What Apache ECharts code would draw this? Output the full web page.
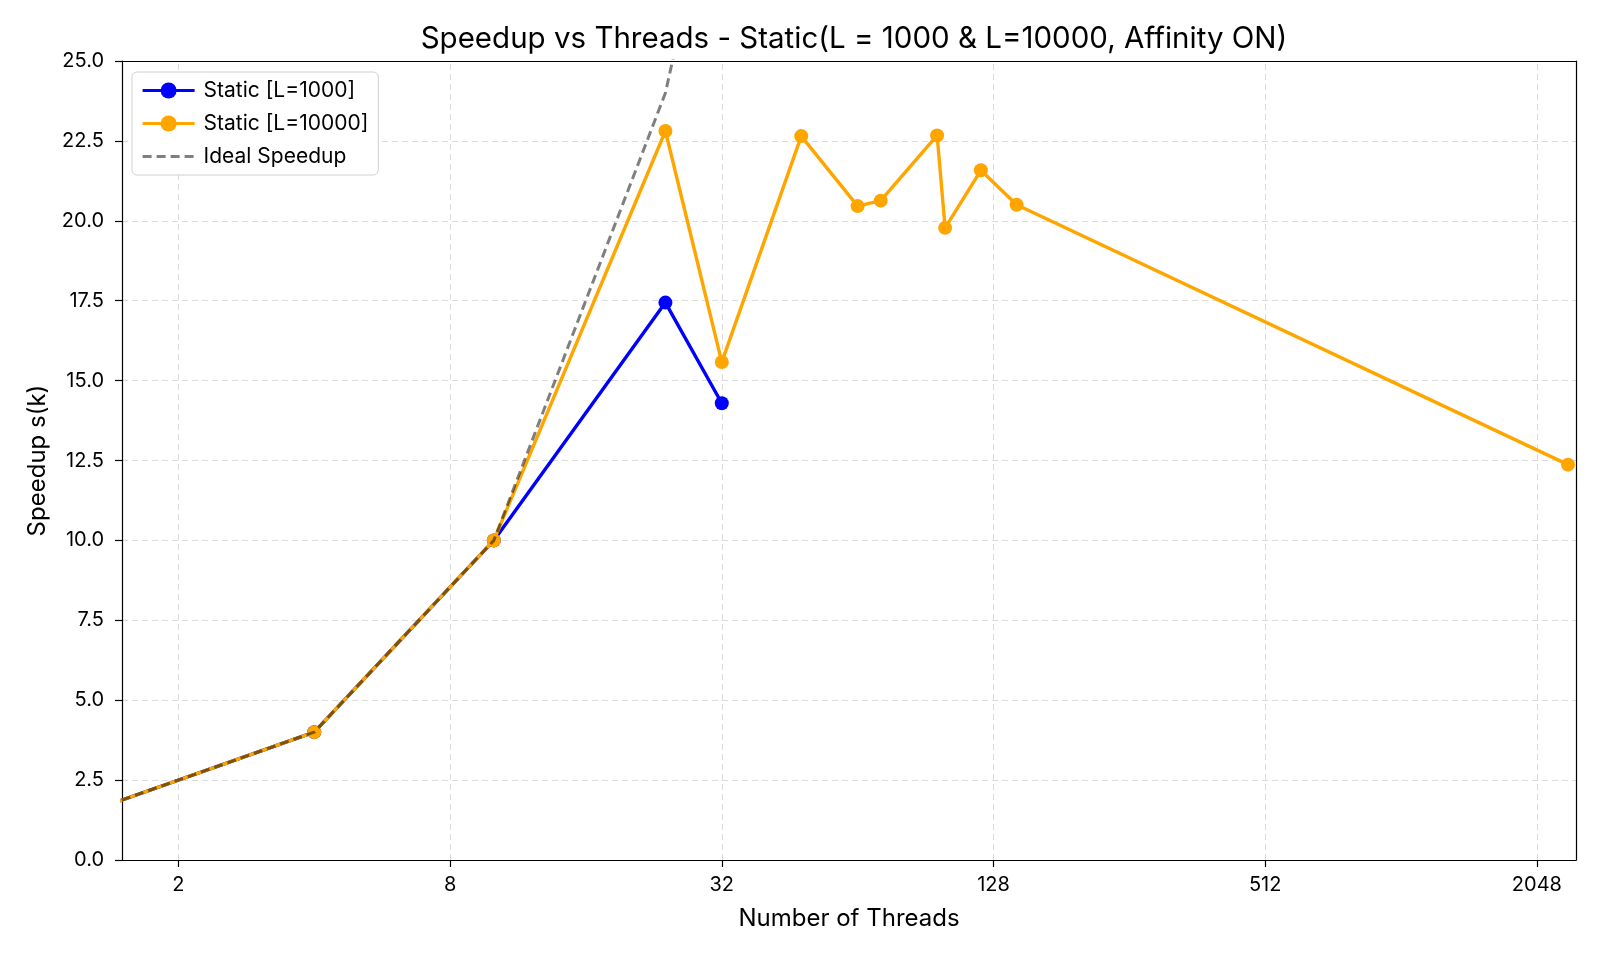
<!DOCTYPE html>
<html>
<head>
<meta charset="utf-8">
<script src="https://cdn.jsdelivr.net/npm/echarts@6/dist/echarts.min.js"></script>
<style>
  html, body { margin: 0; padding: 0; background: #fff; }
  #chart { width: 1600px; height: 960px; }
</style>
</head>
<body>
<div id="chart"></div>
<script>
// data
const threadsL1000 = [1, 4, 10, 24, 32];
const speedupL1000 = [1.0, 4.0, 10.0, 17.44, 14.29];
const threadsL10000 = [1, 4, 10, 24, 32, 48, 64, 72, 96, 100, 120, 144, 2400];
const speedupL10000 = [1.0, 4.0, 10.0, 22.81, 15.58, 22.65, 20.46, 20.63, 22.67, 19.78, 21.58, 20.5, 12.37];
const idealThreads = [1, 4, 10, 24, 32];
const xTicks = [2, 8, 32, 128, 512, 2048];

const font = 'Inter, "Noto Sans", sans-serif';
const gridLine = { color: '#dcdcdc', width: 1, type: [6, 4] };
const spine = { color: '#000', width: 1.2 };

const pairs = (xs, ys) => xs.map((x, i) => [x, ys[i]]);

const chart = echarts.init(document.getElementById('chart'));

const option = {
    animation: false,
    textStyle: { fontFamily: font, color: '#000' },
    title: {
        text: 'Speedup vs Threads - Static(L = 1000 & L=10000, Affinity ON)',
        left: 849,
        top: 19,
        textAlign: 'center',
        textStyle: { fontFamily: font, fontSize: 29.5, fontWeight: 'normal', color: '#000' }
    },
    legend: {
        orient: 'vertical',
        left: 132,
        top: 72,
        padding: [8, 10, 8, 9],
        itemGap: 12,
        itemWidth: 52,
        itemHeight: 20,
        backgroundColor: '#fff',
        borderColor: '#d0d0d0',
        borderWidth: 1,
        borderRadius: 5,
        lineStyle: { width: 3.2 },
        textStyle: { fontFamily: font, fontSize: 21, color: '#000', padding: [0, 0, 0, 4] },
        data: ['Static [L=1000]', 'Static [L=10000]', 'Ideal Speedup']
    },
    grid: {
        left: 122,
        right: 24,
        top: 61,
        bottom: 100
    },
    xAxis: [
        {
            type: 'log',
            logBase: 2,
            min: 1.5,
            max: 2500,
            name: 'Number of Threads',
            nameLocation: 'middle',
            nameGap: 47,
            nameTextStyle: { fontFamily: font, fontSize: 24, color: '#000' },
            axisLine: { show: true, onZero: false, lineStyle: spine },
            axisTick: { show: true, length: 7, customValues: xTicks, lineStyle: spine },
            axisLabel: {
                customValues: xTicks,
                margin: 15,
                fontFamily: font,
                fontSize: 20,
                color: '#000',
                formatter: v => String(Math.round(v))
            },
            splitLine: { show: false }
        },
        {
            type: 'log',
            logBase: 2,
            min: 1.5,
            max: 2500,
            position: 'top',
            z: 3,
            axisLine: { show: true, onZero: false, lineStyle: spine },
            axisTick: { show: false },
            axisLabel: { show: false },
            splitLine: { show: false }
        }
    ],
    yAxis: [
        {
            type: 'value',
            min: 0,
            max: 25,
            interval: 2.5,
            name: 'Speedup s(k)',
            nameLocation: 'middle',
            nameGap: 72,
            nameRotate: 90,
            nameTextStyle: { fontFamily: font, fontSize: 24, color: '#000' },
            axisLine: { show: true, onZero: false, lineStyle: spine },
            axisTick: { show: true, length: 7, lineStyle: spine },
            axisLabel: {
                margin: 18,
                fontFamily: font,
                fontSize: 20,
                color: '#000',
                formatter: v => v.toFixed(1)
            },
            splitLine: { show: true, lineStyle: gridLine }
        },
        {
            type: 'value',
            min: 0,
            max: 25,
            position: 'right',
            z: 3,
            axisLine: { show: true, onZero: false, lineStyle: spine },
            axisTick: { show: false },
            axisLabel: { show: false },
            splitLine: { show: false }
        }
    ],
    series: [
        {
            name: 'Static [L=1000]',
            type: 'line',
            data: pairs(threadsL1000, speedupL1000),
            color: '#0000ff',
            symbol: 'circle',
            symbolSize: 14,
            showAllSymbol: true,
            lineStyle: { width: 3.4, color: '#0000ff' },
            itemStyle: { color: '#0000ff' },
            z: 3
        },
        {
            name: 'Static [L=10000]',
            type: 'line',
            data: pairs(threadsL10000, speedupL10000),
            color: '#ffa500',
            symbol: 'circle',
            symbolSize: 14,
            showAllSymbol: true,
            lineStyle: { width: 3.4, color: '#ffa500' },
            itemStyle: { color: '#ffa500' },
            z: 4,
            markLine: {
                silent: true,
                symbol: 'none',
                label: { show: false },
                lineStyle: gridLine,
                data: xTicks.map(t => ({ xAxis: t })),
                z: 1
            }
        },
        {
            name: 'Ideal Speedup',
            type: 'line',
            data: pairs(idealThreads, idealThreads),
            color: 'rgba(0,0,0,0.5)',
            symbol: 'circle',
            showSymbol: false,
            itemStyle: { opacity: 0 },
            lineStyle: { width: 3, color: 'rgba(0,0,0,0.5)', type: [9, 5] },
            z: 5
        }
    ]
};

chart.setOption(option);
</script>
</body>
</html>
